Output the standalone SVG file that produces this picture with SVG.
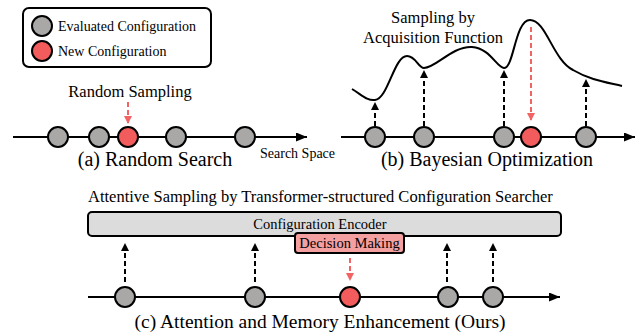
<svg xmlns="http://www.w3.org/2000/svg" width="638" height="335" viewBox="0 0 638 335" font-family="'Liberation Serif', 'Times New Roman', 'DejaVu Serif', serif">
<defs>
<marker id="ah" markerUnits="userSpaceOnUse" markerWidth="10" markerHeight="10" refX="8" refY="4" orient="auto"><path d="M0,0 L8,4 L0,8 z" fill="#000"/></marker>
<marker id="ahr" markerUnits="userSpaceOnUse" markerWidth="10" markerHeight="10" refX="8" refY="4" orient="auto"><path d="M0,0 L8,4 L0,8 z" fill="#f26464"/></marker>
<marker id="ax" markerUnits="userSpaceOnUse" markerWidth="12" markerHeight="10" refX="11" refY="4.5" orient="auto"><path d="M0,0 L11,4.5 L0,9 z" fill="#000"/></marker>
</defs>
<style>
text{font-family:'Liberation Serif','Times New Roman','DejaVu Serif',serif;fill:#000}
.g{fill:#aaa7a7;stroke:#000;stroke-width:2}
.r{fill:#f25c5c;stroke:#000;stroke-width:2}
.axis{stroke:#000;stroke-width:2;fill:none}
.db{stroke:#000;stroke-width:2;stroke-dasharray:5,3;fill:none}
.dr{stroke:#f26464;stroke-width:2;stroke-dasharray:5,3;fill:none}
</style>
<rect width="638" height="335" fill="#fff"/>

<g id="legend">
<rect x="23" y="8" width="188" height="59" rx="6" fill="#fff" stroke="#000" stroke-width="2"/>
<circle class="g" cx="42" cy="26" r="10"/>
<text x="58" y="31" font-size="14">Evaluated Configuration</text>
<circle class="r" cx="42" cy="51" r="10"/>
<text x="58" y="56" font-size="14">New Configuration</text>
</g>

<g id="connectors">
<line class="axis" x1="13" y1="137" x2="307" y2="137" marker-end="url(#ax)"/>
<line class="axis" x1="341" y1="137" x2="635" y2="137" marker-end="url(#ax)"/>
<line class="axis" x1="88" y1="297" x2="560" y2="297" marker-end="url(#ax)"/>
<line class="dr" x1="128" y1="102" x2="128" y2="124" marker-end="url(#ahr)"/>
<path class="axis" d="M352,89 C362,95 367,101 375,100 C388,99 394,56 407,56 C416,56 418,68 424,68 C436,68 452,46 472,47 C490,48 497,68 504,68 C514,68 515,20 530,20 C546,20 553,60 573,70 C590,80 605,82 622,86"/>
<line class="db" x1="375" y1="126" x2="375" y2="102" marker-end="url(#ah)"/>
<line class="db" x1="424" y1="126" x2="424" y2="70" marker-end="url(#ah)"/>
<line class="db" x1="504" y1="126" x2="504" y2="70" marker-end="url(#ah)"/>
<line class="db" x1="586" y1="126" x2="586" y2="79" marker-end="url(#ah)"/>
<line class="dr" x1="531" y1="27" x2="531" y2="121" marker-end="url(#ahr)"/>
<line class="db" x1="125" y1="282" x2="125" y2="243" marker-end="url(#ah)"/>
<line class="db" x1="255" y1="282" x2="255" y2="243" marker-end="url(#ah)"/>
<line class="db" x1="447" y1="282" x2="447" y2="243" marker-end="url(#ah)"/>
<line class="db" x1="493" y1="282" x2="493" y2="243" marker-end="url(#ah)"/>
<line class="dr" x1="350" y1="258" x2="350" y2="281" marker-end="url(#ahr)"/>
</g>

<g id="panel-a">
<text x="130" y="97" font-size="16.5" text-anchor="middle">Random Sampling</text>
<circle class="g" cx="58" cy="137" r="10"/>
<circle class="g" cx="99" cy="137" r="10"/>
<circle class="r" cx="128" cy="137" r="10"/>
<circle class="g" cx="176" cy="137" r="10"/>
<circle class="g" cx="245" cy="137" r="10"/>
<text x="155" y="166" font-size="20" text-anchor="middle">(a) Random Search</text>
<text x="260" y="158" font-size="14">Search Space</text>
</g>

<g id="panel-b">
<text x="433" y="23" font-size="16.5" text-anchor="middle">Sampling by</text>
<text x="433" y="43" font-size="16.5" text-anchor="middle">Acquisition Function</text>
<circle class="g" cx="375" cy="137" r="10"/>
<circle class="g" cx="424" cy="137" r="10"/>
<circle class="g" cx="504" cy="137" r="10"/>
<circle class="r" cx="531" cy="137" r="10"/>
<circle class="g" cx="586" cy="137" r="10"/>
<text x="487" y="166" font-size="20" text-anchor="middle">(b) Bayesian Optimization</text>
</g>

<g id="panel-c">
<text x="88" y="202" font-size="16.5">Attentive Sampling by Transformer-structured Configuration Searcher</text>
<rect x="88" y="212" width="473" height="24" rx="4" fill="#dcdcdc" stroke="#000" stroke-width="2"/>
<text x="320" y="229" font-size="14.5" text-anchor="middle">Configuration Encoder</text>
<g id="decision">
<rect x="295" y="233" width="109" height="20" rx="3" fill="#f5a0a0" stroke="#000" stroke-width="2"/>
<text x="349.5" y="248" font-size="14.5" text-anchor="middle">Decision Making</text>
</g>
<circle class="g" cx="125" cy="297" r="10"/>
<circle class="g" cx="255" cy="297" r="10"/>
<circle class="r" cx="350" cy="297" r="10"/>
<circle class="g" cx="448" cy="297" r="10"/>
<circle class="g" cx="493" cy="297" r="10"/>
<text x="320" y="328" font-size="19.5" text-anchor="middle">(c) Attention and Memory Enhancement (Ours)</text>
</g>
</svg>
